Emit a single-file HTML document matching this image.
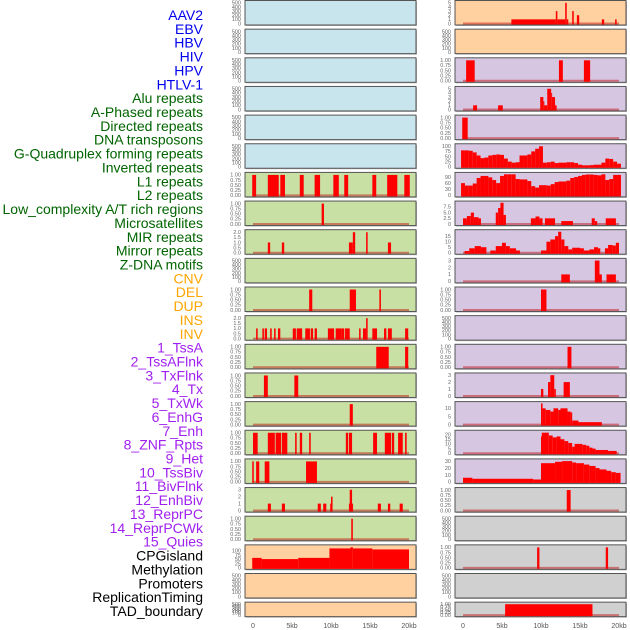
<!DOCTYPE html>
<html><head><meta charset="utf-8"><style>
body{margin:0;background:#fff;}
svg{display:block;font-family:"Liberation Sans",sans-serif;}
</style></head><body>
<svg id="chart" width="630" height="630" viewBox="0 0 630 630"></svg>
<script>
const trackLabels = ["AAV2","EBV","HBV","HIV","HPV","HTLV-1","Alu repeats","A-Phased repeats","Directed repeats","DNA transposons","G-Quadruplex forming repeats","Inverted repeats","L1 repeats","L2 repeats","Low_complexity A/T rich regions","Microsatellites","MIR repeats","Mirror repeats","Z-DNA motifs","CNV","DEL","DUP","INS","INV","1_TssA","2_TssAFlnk","3_TxFlnk","4_Tx","5_TxWk","6_EnhG","7_Enh","8_ZNF_Rpts","9_Het","10_TssBiv","11_BivFlnk","12_EnhBiv","13_ReprPC","14_ReprPCWk","15_Quies","CPGisland","Methylation","Promoters","ReplicationTiming","TAD_boundary"];
const labelColors = [].concat(Array(6).fill("#0000ee"),Array(13).fill("#006400"),Array(5).fill("#ffa500"),Array(15).fill("#a020f0"),Array(5).fill("#000000"));
const panelColors = [].concat(Array(6).fill("#c8e4ec"),Array(13).fill("#c8e0a4"),Array(3).fill("#ffd0a0"),Array(2).fill("#ffd0a0"),Array(15).fill("#d6c6e2"),Array(5).fill("#d0d0d0"));
const T500 = ["0","100","200","300","400","500"];
const T1 = ["0.00","0.25","0.50","0.75","1.00"];
const T2 = ["0.0","0.5","1.0","1.5","2.0"];
const trackTicks = [T500,T500,T500,T500,T500,T500,T1,T1,T2,T500,T1,T2,T1,T1,T1,T1,T1,["0","1","2","3"],T1,["0","25","50","75","100"],T500,T500,
 ["0","1","2","3","4","5"],T500,T1,["0","1","2","3","4","5"],T1,["0","25","50","75","100"],["0","30","60","90"],["0","2.5","5.0","7.5"],["0","5","10","15"],["0","1","2","3"],T1,T500,T1,["0","1","2","3"],["0","5","10"],["0","5","10","15","20"],["0","10","20","30"],T1,T500,T1,T500,T1];
const tickValues = trackTicks.map(t=>t.map(Number));
const trackMax = [520,520,520,520,520,520,1.05,1.05,2.1,520,1.05,2.1,1.05,1.05,1.05,1.05,1.05,3.1,1.05,125,520,520,
 5.2,520,1.05,5.2,1.05,105,105,9.4,19.5,3.1,1.05,520,1.05,3.1,13.2,23,31,1.05,520,1.05,520,1.05];
const trackSegs = {
 6:[[-0.1,0.4,1],[1.9,3.3,1],[3.5,4.1,1],[6.0,6.5,1],[7.9,8.6,1],[10.3,11.0,1],[11.7,12.2,1],[15.3,15.8,1],[17.2,18.5,1],[19.4,20.1,1]],
 7:[[8.8,9.1,1]],
 8:[[1.9,2.2,1],[3.7,4.0,1],[12.3,12.8,1],[12.8,13.1,2],[14.5,14.7,2],[17.3,17.7,1]],
 10:[[7.2,7.6,1],[12.4,13.2,1],[16.2,16.4,1]],
 11:[[0.4,0.6,1],[1.2,1.4,1],[1.5,1.8,1],[2.2,2.4,1],[2.7,2.9,1],[3.2,3.5,1],[5.1,5.5,1],[5.6,6.3,1],[6.7,7.3,1],[7.4,7.7,1],[7.9,8.2,1],[9.6,10.4,1],[10.6,11.3,1],[11.3,11.7,1],[11.8,12.4,1],[13.6,13.8,1],[14.1,14.5,1],[14.5,14.7,2],[15.3,15.9,1],[16.8,17.1,1],[17.3,17.8,1],[19.5,19.9,1]],
 12:[[15.8,17.4,1],[19.5,19.9,1]],
 13:[[1.4,1.9,1],[5.3,5.8,1]],
 14:[[12.4,12.8,1]],
 15:[[0,0.6,1],[1.9,2.8,1],[2.9,3.6,1],[3.7,4.4,1],[5.4,5.6,1],[6.0,6.3,1],[7.2,7.4,1],[11.9,12.2,1],[12.3,12.7,1],[15.4,15.9,1],[16.9,17.7,1],[17.8,18.1,1],[18.6,19.2,1],[19.5,19.7,1]],
 16:[[-0.1,0.1,1],[0.4,0.8,1],[1.5,2.1,1],[6.8,8.2,1]],
 17:[[1.9,2.3,1],[3.7,4.1,1],[8.3,8.7,1],[9.0,9.4,1],[9.9,10.0,1],[10.0,10.2,2],[12.3,12.4,1],[12.4,12.7,3],[12.7,12.8,1],[16.0,16.4,1],[17.3,17.6,1],[18.8,19.2,1]],
 18:[[12.6,12.8,1]],
 19:[[-0.1,1.1,58],[1.1,5.8,51],[5.8,9.8,58],[9.8,12.5,113],[12.5,12.8,120],[12.8,15.3,113],[15.3,20.0,107]],
 22:[[6.2,11.9,1],[11.9,12.1,3],[12.1,13.1,1],[13.1,13.3,5],[13.3,13.5,1],[14.0,14.2,3],[14.6,14.9,2],[17.8,18.1,1],[19.5,19.7,1]],
 24:[[0.4,1.5,1],[12.3,12.8,1],[15.5,16.3,1]],
 25:[[1.3,1.8,1],[4.5,5.1,1],[9.9,10.3,3],[10.3,10.4,2],[10.4,10.8,1],[10.8,11.3,5],[11.3,11.4,4],[11.4,11.8,3],[11.8,12.0,1]],
 26:[[-0.1,0.6,1]],
 29:[[0,0.5,2.5],[0.5,1.0,3.5],[1.0,1.4,5],[1.4,2.0,3],[2.0,2.3,2.5],[4.2,4.5,5],[4.5,4.8,7],[4.8,5.2,9.3],[5.2,5.5,4],[8.7,9.3,2.5],[9.3,9.8,3.3],[9.8,10.2,2.5],[10.5,11.8,2.5],[12.6,14.1,1.3],[16.5,16.9,2.5],[16.9,17.2,1.3],[18.3,19.6,2.5]],
 30:[[0.2,0.8,1.5],[0.8,1.5,4],[1.5,2.3,6],[2.3,3.0,5],[3.5,4.2,2],[4.2,5.0,6],[5.0,5.5,9],[5.5,6.0,6],[6.0,6.8,4],[6.8,7.3,2],[10.0,10.7,2],[10.7,11.2,10],[11.2,11.8,12],[11.8,12.2,15],[12.2,12.6,19],[12.6,13.0,12],[13.0,13.5,6],[13.5,14.0,3],[14.0,15.0,4.5],[15.0,15.5,4],[15.5,16.2,2],[16.2,16.8,3],[16.8,17.3,5],[17.3,17.6,4],[18.2,18.6,4],[18.6,19.2,7],[19.2,19.6,6.5],[19.6,20.0,9]],
 31:[[12.6,13.7,1],[16.9,17.5,3],[17.5,17.8,1],[18.4,19.6,1]],
 32:[[10.0,10.7,1]],
 34:[[13.4,13.9,1]],
 35:[[10.0,10.3,1],[10.9,11.2,2],[11.2,11.7,3],[11.7,11.9,1],[12.9,13.7,2]],
 36:[[10.0,10.2,13],[10.2,10.6,10],[10.6,11.2,9],[11.2,11.6,8],[11.6,12.2,10],[12.2,12.5,9],[12.5,13.4,10],[13.4,13.8,8],[13.8,14.0,7.5],[14.0,14.8,2.5],[14.8,17.8,1.5]],
 37:[[10.0,10.1,18],[10.1,11.0,22],[11.0,11.5,19],[11.5,12.0,17],[12.0,12.5,18],[12.5,13.0,15],[13.0,13.5,13],[13.5,14.0,11],[14.0,14.3,7],[14.3,15.3,10],[15.3,15.8,9],[15.8,16.2,8],[16.2,16.6,6],[16.6,17.0,5],[17.0,18.6,3.5],[18.6,19.7,2.5]],
 38:[[0,1.2,6],[1.2,9.0,4.5],[9.0,10.0,3.5],[10.0,11.8,27],[11.8,12.7,29],[12.7,14.0,30],[14.0,14.5,28],[14.5,15.5,27],[15.5,16.2,25],[16.2,17.0,23],[17.0,17.5,20],[17.5,18.4,18],[18.4,19.0,16],[19.0,19.6,14],[19.6,20.2,13]],
 39:[[13.3,13.8,1]],
 41:[[9.5,9.8,1],[18.3,18.6,1]],
 43:[[5.4,16.6,1]]
};
const gquadSteps = [80,80,78,70,55,42,45,55,58,60,58,40,25,20,22,55,55,60,75,88,100,20,22,25,18,20,20,22,22,18,10,7,7,8,10,10,20,40,38,25,15];
const invSteps = [60,48,48,58,85,95,95,88,75,60,95,103,103,103,80,78,78,70,45,38,50,50,48,55,65,68,68,72,85,90,95,100,102,102,100,98,103,75,80,100,100];
const stepTracks = {27:gquadSteps, 28:invSteps};
const xTickLabels = ["0","5kb","10kb","15kb","20kb"];
const xTickValues = [0,5,10,15,20];

const NS="http://www.w3.org/2000/svg";
const svg=document.getElementById("chart");
function mk(tag,attrs,parent){const e=document.createElementNS(NS,tag);for(const k in attrs)e.setAttribute(k,attrs[k]);(parent||svg).appendChild(e);return e;}
const STEP=28.65;
function panelGeom(i){const col=i<22?0:1;const row=i%22;const x=col?455:245;const top=0.5+row*STEP;const h=row===21?14.5:24.5;return {col,row,x,top,h};}
function xScale(col,kb){return (col?463:253)+kb*7.8;}
function yScale(g,v,max){const y0=g.top+g.h-1.5, y1=g.top+1.5;return y0-(v/max)*(y0-y1);}

// labels
trackLabels.forEach((t,i)=>{
 const e=mk("text",{x:203,y:15+i*13.86+5,"text-anchor":"end","font-size":"14",fill:labelColors[i]});
 e.textContent=t;
 
 
});

for(let i=0;i<44;i++){
 const g=panelGeom(i);
 const grp=mk("g",{});
 
 
 mk("rect",{x:g.x+1,y:g.top+1,width:171,height:g.h,fill:"#b8b8b8"},grp);
 mk("rect",{x:g.x,y:g.top,width:171,height:g.h,fill:panelColors[i],stroke:"#555",'stroke-width':1},grp);
 const cid="clip"+i;
 const cp=mk("clipPath",{id:cid},grp);mk("rect",{x:g.x,y:g.top,width:171,height:g.h},cp);
 const max=trackMax[i];
 // ticks
 trackTicks[i].forEach((lab,k)=>{
  const y=yScale(g,tickValues[i][k],max);
  const tx=mk("text",{x:g.x-4,y:y+1.8,"text-anchor":"end","font-size":"5.5",fill:"#666"},grp);
  tx.textContent=lab;
  
  
 });
 const segs=trackSegs[i]||(stepTracks[i]?stepTracks[i].map((v,k)=>[k*0.5-0.25,k*0.5+0.25,v]):null);
 if(segs){
  const dg=mk("g",{"clip-path":"url(#"+cid+")"},grp);
  const y0=yScale(g,0,max);
  mk("line",{x1:xScale(g.col,0),x2:xScale(g.col,20),y1:y0,y2:y0,stroke:"rgba(190,0,0,0.45)","stroke-width":2},dg);
  segs.forEach(s=>{
   const x1=xScale(g.col,s[0]),x2=xScale(g.col,s[1]);const y=yScale(g,s[2],max);
   const r=mk("rect",{x:x1,y:y,width:Math.max(x2-x1,1),height:y0-y+1,fill:"#ff0000"},dg);
   
   
  });
 }
}
// x axes
[0,1].forEach(col=>{
 xTickValues.forEach((v,k)=>{
  const t=mk("text",{x:xScale(col,v),y:628,"text-anchor":"middle","font-size":"7",fill:"#555"});
  t.textContent=xTickLabels[k];
  
  
 });
});
</script>
</body></html>
